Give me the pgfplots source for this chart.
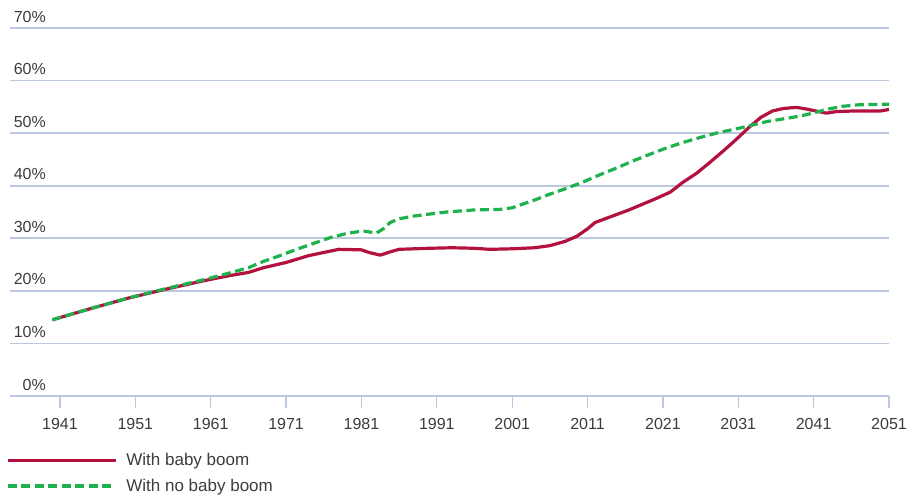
\documentclass[border=0pt]{standalone}
\usepackage{pgfplots}
\pgfplotsset{compat=1.18}
\usepackage{fontspec}
\setmainfont{Liberation Sans}
\definecolor{gridc}{HTML}{BCC8E0}
\definecolor{redc}{HTML}{B3123F}
\definecolor{greenc}{HTML}{1FB14C}
\definecolor{textc}{HTML}{3C3C3C}
\tikzset{ylab/.style={anchor=base east, inner sep=0pt, text=textc, font=\fontsize{16}{18}\selectfont, xshift=36pt, yshift=6pt}}
\begin{document}
\begin{tikzpicture}
\useasboundingbox (0,0) rectangle (908pt,496pt);
\begin{axis}[
  scale only axis, width=879pt, height=368pt,
  at={(10pt,100pt)}, anchor=south west,
  xmin=1934.37, xmax=2051, ymin=0, ymax=70,
  axis line style={draw=none},
  ymajorgrids, grid style={gridc, line width=1.6pt},
  ytick={0,10,...,70}, yticklabels={}, ytick style={draw=none},
  xtick={1941,1951,...,2051}, xtick pos=bottom, xtick align=outside,
  major tick length=12pt, x tick style={gridc, line width=1.3pt},
  /pgf/number format/1000 sep={},
  /pgf/number format/assume math mode=true,
  xticklabel style={font=\fontsize{16}{18}\selectfont, text=textc, yshift=-7pt},
  clip=false,
  legend style={draw=none, fill=none, at={(0,0)}, anchor=north west,
    xshift=-4pt, yshift=-55pt, font=\fontsize{17}{19}\selectfont, text=textc,
    row sep=8pt, inner sep=0pt, nodes={inner sep=2pt}, /tikz/column sep=7pt},
  legend cell align=left,
  legend image code/.code={\draw[#1] (0pt,0pt) -- (108pt,0pt);},
]
\addplot[redc, line width=3.2pt, line join=round] coordinates {
(1940,14.5)(1945,16.6)(1950,18.6)(1955,20.3)(1960,21.9)(1963.5,22.9)
(1966,23.5)(1968,24.4)(1971,25.4)(1974,26.7)(1976,27.3)(1978,27.9)
(1981,27.8)(1982,27.3)(1983.5,26.8)(1985,27.5)(1986,27.9)(1990,28.1)
(1993,28.2)(1996,28.1)(1998,27.9)(2001,28.0)(2004,28.2)(2006,28.6)
(2008,29.4)(2009.6,30.4)(2011,31.8)(2012,33.0)(2013.5,33.8)(2016.5,35.4)
(2020,37.5)(2022,38.8)(2023.6,40.6)(2025.5,42.4)(2027.2,44.4)(2029,46.6)
(2030.8,48.9)(2032.5,51.2)(2034,53.0)(2035.5,54.2)(2037,54.7)(2038.7,54.9)
(2040,54.6)(2041,54.3)(2042.7,53.8)(2044,54.1)(2046,54.2)(2049.8,54.2)(2051,54.5)
};
\addlegendentry{With baby boom}
\addplot[greenc, line width=3.2pt, dash pattern=on 9pt off 4.5pt] coordinates {
(1940,14.5)(1945,16.6)(1950,18.6)(1955,20.4)(1960,22.1)(1963.5,23.4)
(1966,24.4)(1968,25.6)(1970,26.6)(1972.4,27.9)(1974.6,29.0)(1976.8,30.1)
(1979,30.9)(1981.2,31.4)(1983,31.0)(1984,31.9)(1984.8,33.0)(1986,33.7)
(1987.8,34.2)(1990,34.6)(1992.3,35.0)(1996,35.4)(1999.4,35.5)(2001,35.8)
(2002.4,36.5)(2004,37.3)(2006,38.4)(2008,39.4)(2010.4,40.7)(2012.5,42.0)
(2014.9,43.4)(2017,44.7)(2019.3,46.0)(2021.5,47.2)(2023.6,48.2)(2026,49.2)
(2028.1,50.0)(2031.6,51.1)(2034.8,52.2)(2038.2,53.0)(2040,53.5)(2041.4,54.0)
(2043,54.6)(2044.8,55.1)(2047,55.4)(2050.1,55.5)(2051,55.5)
};
\addlegendentry{With no baby boom}
\node[ylab] at (axis cs:1934.37,0) {0\%};
\node[ylab] at (axis cs:1934.37,10) {10\%};
\node[ylab] at (axis cs:1934.37,20) {20\%};
\node[ylab] at (axis cs:1934.37,30) {30\%};
\node[ylab] at (axis cs:1934.37,40) {40\%};
\node[ylab] at (axis cs:1934.37,50) {50\%};
\node[ylab] at (axis cs:1934.37,60) {60\%};
\node[ylab] at (axis cs:1934.37,70) {70\%};
\end{axis}
\end{tikzpicture}
\end{document}
